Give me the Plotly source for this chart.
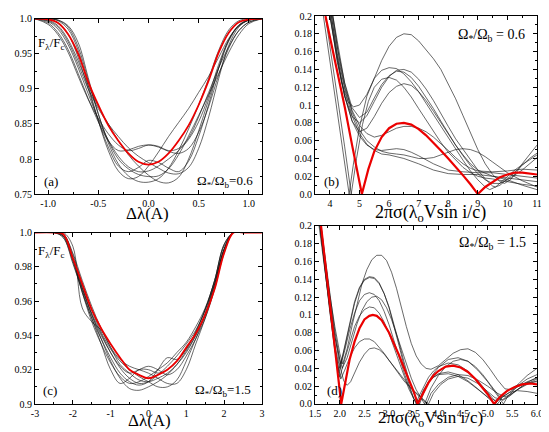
import plotly.graph_objs as go

# ---------------- panel (a): line profiles, Omega*/Omega_b = 0.6 ----------------
xa = [-1.13, -1.0, -0.9, -0.8, -0.7, -0.6, -0.5, -0.4, -0.3, -0.2, -0.1, 0.0,
      0.1, 0.2, 0.3, 0.4, 0.5, 0.6, 0.7, 0.8, 0.9, 1.0, 1.13]
a_red = [1.0, 0.999, 0.994, 0.978, 0.950, 0.910, 0.877, 0.848, 0.826, 0.808, 0.796, 0.792,
         0.796, 0.808, 0.826, 0.848, 0.877, 0.912, 0.952, 0.980, 0.995, 0.999, 1.0]
a_b1 = [1.0, 0.992, 0.977, 0.952, 0.918, 0.885, 0.858, 0.836, 0.820, 0.812, 0.815, 0.820,
        0.818, 0.812, 0.815, 0.830, 0.860, 0.895, 0.930, 0.960, 0.983, 0.995, 1.0]
a_b2 = [1.0, 1.0, 0.998, 0.990, 0.966, 0.916, 0.865, 0.823, 0.793, 0.776, 0.768, 0.767,
        0.772, 0.787, 0.812, 0.843, 0.877, 0.915, 0.955, 0.984, 0.997, 1.0, 1.0]
a_b3 = [1.0, 0.998, 0.990, 0.970, 0.940, 0.905, 0.875, 0.850, 0.826, 0.806, 0.790, 0.777,
        0.768, 0.766, 0.774, 0.800, 0.840, 0.885, 0.930, 0.968, 0.990, 0.998, 1.0]
a_b4 = [1.0, 1.0, 0.997, 0.985, 0.955, 0.905, 0.855, 0.812, 0.783, 0.772, 0.775, 0.790,
        0.810, 0.832, 0.852, 0.872, 0.895, 0.918, 0.945, 0.972, 0.990, 0.998, 1.0]
a_b5 = [1.0, 0.999, 0.994, 0.978, 0.945, 0.900, 0.855, 0.817, 0.790, 0.782, 0.788, 0.798,
        0.795, 0.787, 0.782, 0.797, 0.832, 0.878, 0.930, 0.970, 0.991, 0.999, 1.0]
a_b6 = [1.0, 0.994, 0.980, 0.956, 0.922, 0.886, 0.853, 0.826, 0.812, 0.813, 0.818, 0.820,
        0.817, 0.811, 0.808, 0.815, 0.838, 0.875, 0.920, 0.958, 0.983, 0.995, 1.0]
a_b7 = [1.0, 1.0, 0.998, 0.988, 0.960, 0.912, 0.864, 0.826, 0.800, 0.786, 0.778, 0.775,
        0.776, 0.786, 0.806, 0.833, 0.862, 0.892, 0.922, 0.952, 0.977, 0.993, 1.0]
a_b8 = [1.0, 0.996, 0.985, 0.963, 0.930, 0.893, 0.857, 0.827, 0.804, 0.789, 0.782, 0.783,
        0.790, 0.800, 0.812, 0.828, 0.853, 0.890, 0.935, 0.970, 0.990, 0.998, 1.0]
a_b9 = [1.0, 0.997, 0.988, 0.967, 0.935, 0.900, 0.872, 0.850, 0.832, 0.816, 0.804, 0.795,
        0.787, 0.780, 0.779, 0.788, 0.815, 0.860, 0.915, 0.962, 0.988, 0.998, 1.0]

# ---------------- panel (c): line profiles, Omega*/Omega_b = 1.5 ----------------
xc = [-3.0, -2.5, -2.25, -2.0, -1.75, -1.5, -1.25, -1.0, -0.75, -0.5, -0.25, 0.0,
      0.25, 0.5, 0.75, 1.0, 1.25, 1.5, 1.75, 2.0, 2.25, 2.5, 3.0]
c_red = [1.0, 1.0, 0.999, 0.985, 0.970, 0.955, 0.944, 0.935, 0.927, 0.920, 0.917, 0.915,
         0.917, 0.920, 0.925, 0.933, 0.941, 0.952, 0.967, 0.988, 1.0, 1.0, 1.0]
c_b1 = [1.0, 1.0, 1.0, 0.992, 0.956, 0.948, 0.943, 0.933, 0.923, 0.918, 0.914, 0.913,
        0.915, 0.918, 0.923, 0.930, 0.940, 0.952, 0.968, 0.990, 1.0, 1.0, 1.0]
c_b2 = [1.0, 1.0, 0.999, 0.985, 0.965, 0.950, 0.935, 0.920, 0.912, 0.915, 0.920, 0.920,
        0.918, 0.920, 0.925, 0.932, 0.942, 0.955, 0.972, 0.992, 1.0, 1.0, 1.0]
c_b3 = [1.0, 1.0, 0.998, 0.985, 0.968, 0.952, 0.938, 0.925, 0.915, 0.909, 0.908, 0.910,
        0.913, 0.917, 0.923, 0.931, 0.940, 0.953, 0.970, 0.990, 1.0, 1.0, 1.0]
c_b4 = [1.0, 1.0, 0.997, 0.982, 0.966, 0.950, 0.938, 0.927, 0.918, 0.913, 0.911, 0.913,
        0.920, 0.927, 0.926, 0.932, 0.942, 0.955, 0.972, 0.993, 1.0, 1.0, 1.0]
c_b5 = [1.0, 1.0, 0.999, 0.987, 0.970, 0.955, 0.942, 0.932, 0.925, 0.920, 0.916, 0.913,
        0.910, 0.910, 0.914, 0.925, 0.938, 0.952, 0.970, 0.990, 1.0, 1.0, 1.0]
c_b6 = [1.0, 1.0, 0.998, 0.984, 0.967, 0.952, 0.940, 0.930, 0.922, 0.918, 0.920, 0.922,
        0.920, 0.917, 0.920, 0.928, 0.938, 0.950, 0.967, 0.988, 1.0, 1.0, 1.0]
c_b7 = [1.0, 1.0, 0.999, 0.988, 0.972, 0.957, 0.944, 0.933, 0.926, 0.922, 0.920, 0.918,
        0.915, 0.912, 0.912, 0.920, 0.935, 0.950, 0.968, 0.990, 1.0, 1.0, 1.0]
c_b8 = [1.0, 1.0, 0.997, 0.983, 0.965, 0.948, 0.935, 0.924, 0.916, 0.912, 0.913, 0.916,
        0.920, 0.924, 0.930, 0.936, 0.945, 0.956, 0.972, 0.993, 1.0, 1.0, 1.0]
c_b9 = [1.0, 1.0, 0.998, 0.985, 0.968, 0.953, 0.941, 0.930, 0.921, 0.915, 0.912, 0.913,
        0.917, 0.922, 0.928, 0.935, 0.943, 0.955, 0.970, 0.990, 1.0, 1.0, 1.0]

# ---------------- panel (b): Fourier amplitudes, Omega*/Omega_b = 0.6 ----------------
b_red_x = [3.85, 4.0, 4.25, 4.5, 4.75, 5.08, 5.3, 5.5, 5.75, 6.0, 6.25, 6.5, 6.75, 7.0, 7.25,
           7.5, 7.75, 8.0, 8.25, 8.5, 8.75, 9.0, 9.25, 9.5, 9.75, 10.0, 10.25, 10.5, 10.75, 11.0]
b_red_y = [0.2, 0.177, 0.137, 0.098, 0.055, 0.0, 0.028, 0.048, 0.064, 0.074, 0.079, 0.080,
           0.078, 0.073, 0.066, 0.058, 0.049, 0.040, 0.031, 0.021, 0.011, 0.0, 0.008, 0.014,
           0.019, 0.022, 0.024, 0.024, 0.023, 0.022]
b1_x = [3.78, 4.0, 4.25, 4.5, 4.65, 4.8, 5.0, 5.25, 5.5, 5.75, 6.0, 6.25, 6.5, 6.75, 7.0, 7.25,
        7.5, 7.75, 8.0, 8.25, 8.5, 8.75, 9.0, 9.25, 9.4, 9.6, 9.8, 10.0, 10.25, 10.5, 10.75, 11.0]
b1_y = [0.2, 0.148, 0.092, 0.035, 0.0, 0.035, 0.075, 0.11, 0.13, 0.139, 0.142, 0.141, 0.135,
        0.126, 0.115, 0.102, 0.089, 0.076, 0.064, 0.050, 0.038, 0.026, 0.016, 0.008, 0.005,
        0.008, 0.014, 0.020, 0.027, 0.033, 0.039, 0.044]
b2_x = [3.85, 4.0, 4.25, 4.5, 4.72, 4.9, 5.1, 5.3, 5.5, 5.75, 6.0, 6.25, 6.5, 6.75, 7.0, 7.25,
        7.5, 7.75, 8.0, 8.25, 8.5, 8.75, 9.0, 9.25, 9.5, 10.0, 10.5, 11.0]
b2_y = [0.2, 0.167, 0.110, 0.053, 0.0, 0.040, 0.078, 0.104, 0.120, 0.129, 0.131, 0.128, 0.120,
        0.109, 0.096, 0.083, 0.070, 0.058, 0.047, 0.038, 0.030, 0.024, 0.020, 0.018, 0.017,
        0.014, 0.011, 0.009]
b3_x = [4.0, 4.2, 4.4, 4.6, 4.8, 5.0, 5.25, 5.5, 5.75, 6.0, 6.25, 6.5, 6.75, 7.0, 7.25, 7.5,
        7.75, 8.0, 8.25, 8.5, 8.75, 9.0, 9.25, 9.5, 9.75, 9.9, 10.1, 10.3, 10.5, 10.75, 11.0]
b3_y = [0.2, 0.16, 0.125, 0.104, 0.098, 0.100, 0.112, 0.130, 0.150, 0.166, 0.176, 0.180, 0.179,
        0.172, 0.162, 0.152, 0.140, 0.124, 0.107, 0.088, 0.068, 0.050, 0.034, 0.022, 0.014,
        0.012, 0.016, 0.024, 0.034, 0.045, 0.055]
b4_x = [4.02, 4.25, 4.5, 4.75, 5.0, 5.25, 5.5, 5.75, 6.0, 6.25, 6.5, 6.75, 7.0, 7.25, 7.5, 7.75,
        8.0, 8.25, 8.5, 8.75, 9.0, 9.25, 9.5, 9.6, 9.75, 10.0, 10.25, 10.5, 10.75, 11.0]
b4_y = [0.2, 0.148, 0.110, 0.087, 0.080, 0.088, 0.104, 0.120, 0.132, 0.139, 0.140, 0.137, 0.129,
        0.118, 0.105, 0.090, 0.076, 0.062, 0.050, 0.038, 0.027, 0.017, 0.009, 0.008, 0.010,
        0.017, 0.025, 0.033, 0.040, 0.046]
b5_x = [4.08, 4.25, 4.5, 4.75, 5.0, 5.25, 5.5, 5.75, 6.0, 6.25, 6.5, 6.75, 7.0, 7.25, 7.5, 7.75,
        8.0, 8.25, 8.5, 8.75, 9.0, 9.25, 9.5, 9.75, 10.0, 10.5, 11.0]
b5_y = [0.2, 0.165, 0.125, 0.097, 0.086, 0.092, 0.108, 0.123, 0.133, 0.138, 0.137, 0.131, 0.121,
        0.109, 0.096, 0.082, 0.068, 0.055, 0.043, 0.032, 0.023, 0.016, 0.012, 0.012, 0.016,
        0.027, 0.041]
b6_x = [4.05, 4.25, 4.5, 4.75, 5.0, 5.25, 5.5, 5.75, 6.0, 6.25, 6.5, 6.75, 7.0, 7.25, 7.5, 7.75,
        8.0, 8.25, 8.5, 8.75, 9.0, 9.5, 10.0, 10.5, 11.0]
b6_y = [0.2, 0.155, 0.110, 0.082, 0.070, 0.074, 0.087, 0.102, 0.114, 0.121, 0.124, 0.122, 0.115,
        0.105, 0.093, 0.080, 0.067, 0.055, 0.044, 0.034, 0.027, 0.020, 0.018, 0.016, 0.014]
b7_x = [4.1, 4.3, 4.5, 4.75, 5.0, 5.25, 5.5, 5.75, 6.0, 6.25, 6.5, 6.75, 7.0, 7.25, 7.5, 7.75,
        8.0, 8.25, 8.5, 8.75, 9.0, 9.5, 10.0, 10.5, 11.0]
b7_y = [0.2, 0.155, 0.120, 0.094, 0.077, 0.068, 0.064, 0.066, 0.070, 0.074, 0.076, 0.076, 0.074,
        0.070, 0.064, 0.057, 0.049, 0.041, 0.034, 0.029, 0.026, 0.025, 0.026, 0.028, 0.027]
b8_x = [4.0, 4.25, 4.5, 4.75, 5.0, 5.25, 5.5, 5.75, 6.0, 6.25, 6.5, 6.75, 7.0, 7.5, 8.0, 8.5,
        9.0, 9.5, 10.0, 10.5, 11.0]
b8_y = [0.2, 0.150, 0.110, 0.082, 0.065, 0.055, 0.050, 0.049, 0.050, 0.051, 0.050, 0.047, 0.043,
        0.034, 0.027, 0.025, 0.024, 0.024, 0.022, 0.020, 0.018]
b9_x = [4.1, 4.3, 4.5, 4.75, 5.0, 5.25, 5.5, 5.75, 6.0, 6.25, 6.5, 6.75, 7.0, 7.25, 7.5, 7.75,
        8.0, 8.25, 8.5, 8.75, 9.0, 9.25, 9.5, 9.75, 10.0, 10.5, 11.0]
b9_y = [0.2, 0.160, 0.124, 0.092, 0.072, 0.060, 0.053, 0.048, 0.046, 0.045, 0.044, 0.042, 0.040,
        0.040, 0.041, 0.044, 0.047, 0.050, 0.051, 0.050, 0.047, 0.042, 0.036, 0.030, 0.024,
        0.015, 0.008]
b10_x = [4.05, 4.25, 4.5, 4.75, 5.0, 5.25, 5.5, 5.75, 6.0, 6.25, 6.5, 7.0, 7.5, 8.0, 8.5, 9.0,
         9.5, 10.0, 10.5, 11.0]
b10_y = [0.2, 0.158, 0.118, 0.088, 0.068, 0.056, 0.049, 0.045, 0.044, 0.042, 0.040, 0.034,
         0.027, 0.023, 0.022, 0.022, 0.020, 0.016, 0.010, 0.005]

# ---------------- panel (d): Fourier amplitudes, Omega*/Omega_b = 1.5 ----------------
d_red_x = [1.62, 1.8, 2.03, 2.2, 2.3, 2.4, 2.5, 2.6, 2.67, 2.75, 2.85, 3.0, 3.1, 3.2, 3.3, 3.4,
           3.5, 3.58, 3.7, 3.8, 3.9, 4.0, 4.15, 4.3, 4.45, 4.6, 4.75, 4.9, 5.0, 5.13, 5.25,
           5.4, 5.55, 5.7, 5.87, 6.0]
d_red_y = [0.2, 0.112, 0.0, 0.050, 0.070, 0.085, 0.095, 0.099, 0.100, 0.099, 0.094, 0.080,
           0.068, 0.055, 0.041, 0.028, 0.014, 0.0, 0.014, 0.024, 0.032, 0.037, 0.042, 0.043,
           0.041, 0.036, 0.028, 0.018, 0.011, 0.0, 0.008, 0.015, 0.019, 0.022, 0.023, 0.022]
d1_x = [1.6, 1.7, 1.8, 1.9, 2.0, 2.06, 2.15, 2.25, 2.35, 2.45, 2.55, 2.65, 2.75, 2.85, 2.95,
        3.05, 3.15, 3.25, 3.35, 3.45, 3.55, 3.65, 3.75, 3.85, 4.0, 4.15, 4.3, 4.45, 4.6, 4.75,
        4.9, 5.05, 5.2, 5.35, 5.5, 5.65, 5.8, 6.0]
d1_y = [0.2, 0.160, 0.122, 0.087, 0.057, 0.045, 0.062, 0.088, 0.113, 0.135, 0.151, 0.162,
        0.167, 0.167, 0.161, 0.148, 0.130, 0.108, 0.087, 0.068, 0.054, 0.045, 0.040, 0.039,
        0.043, 0.050, 0.057, 0.061, 0.062, 0.058, 0.050, 0.039, 0.027, 0.017, 0.016, 0.024,
        0.032, 0.040]
d2_x = [1.58, 1.7, 1.8, 1.9, 2.0, 2.1, 2.2, 2.3, 2.4, 2.5, 2.6, 2.7, 2.8, 2.9, 3.0, 3.1, 3.2,
        3.3, 3.4, 3.5, 3.55, 3.6, 3.7, 3.8, 3.9, 4.0, 4.2, 4.4, 4.6, 4.8, 5.0, 5.1, 5.2, 5.3,
        5.45, 5.6, 5.8, 6.0]
d2_y = [0.2, 0.148, 0.105, 0.065, 0.040, 0.065, 0.092, 0.115, 0.131, 0.140, 0.143, 0.142,
        0.136, 0.124, 0.108, 0.088, 0.066, 0.044, 0.023, 0.006, 0.0, 0.008, 0.020, 0.030,
        0.037, 0.042, 0.046, 0.044, 0.037, 0.026, 0.013, 0.006, 0.0, 0.008, 0.014, 0.019,
        0.025, 0.029]
d3_x = [1.6, 1.7, 1.8, 1.9, 2.02, 2.1, 2.2, 2.3, 2.4, 2.5, 2.6, 2.7, 2.8, 2.9, 3.0, 3.1, 3.2,
        3.3, 3.4, 3.5, 3.62, 3.7, 3.8, 3.9, 4.0, 4.2, 4.4, 4.6, 4.8, 5.0, 5.2, 5.32, 5.4, 5.6,
        5.8, 6.0]
d3_y = [0.2, 0.155, 0.113, 0.075, 0.045, 0.063, 0.090, 0.113, 0.130, 0.139, 0.142, 0.141,
        0.135, 0.124, 0.109, 0.090, 0.069, 0.048, 0.028, 0.012, 0.0, 0.012, 0.025, 0.034,
        0.041, 0.050, 0.052, 0.048, 0.038, 0.025, 0.010, 0.0, 0.008, 0.020, 0.028, 0.033]
d4_x = [1.6, 1.7, 1.8, 1.9, 1.98, 2.1, 2.2, 2.3, 2.4, 2.5, 2.6, 2.7, 2.8, 2.9, 3.0, 3.1, 3.2,
        3.3, 3.4, 3.5, 3.57, 3.7, 3.8, 3.9, 4.0, 4.2, 4.4, 4.6, 4.8, 5.0, 5.15, 5.25, 5.4, 5.6,
        5.8, 6.0]
d4_y = [0.2, 0.152, 0.108, 0.066, 0.035, 0.060, 0.083, 0.102, 0.116, 0.123, 0.125, 0.123,
        0.116, 0.104, 0.089, 0.071, 0.053, 0.036, 0.020, 0.006, 0.0, 0.015, 0.024, 0.030,
        0.034, 0.036, 0.033, 0.026, 0.017, 0.007, 0.0, 0.006, 0.015, 0.021, 0.024, 0.025]
d5_x = [1.62, 1.7, 1.8, 1.9, 2.0, 2.05, 2.15, 2.25, 2.35, 2.45, 2.55, 2.65, 2.75, 2.85, 2.95,
        3.05, 3.15, 3.25, 3.35, 3.45, 3.55, 3.65, 3.72, 3.85, 4.0, 4.15, 4.3, 4.45, 4.6, 4.75,
        4.9, 5.05, 5.2, 5.3, 5.45, 5.6, 5.8, 6.0]
d5_y = [0.2, 0.165, 0.122, 0.082, 0.050, 0.040, 0.052, 0.072, 0.090, 0.105, 0.115, 0.120,
        0.121, 0.117, 0.108, 0.095, 0.079, 0.062, 0.045, 0.029, 0.016, 0.006, 0.0, 0.018,
        0.032, 0.042, 0.048, 0.050, 0.048, 0.042, 0.033, 0.022, 0.011, 0.004, 0.009, 0.016,
        0.024, 0.030]
d6_x = [1.6, 1.7, 1.8, 1.9, 2.0, 2.1, 2.2, 2.3, 2.4, 2.5, 2.6, 2.7, 2.8, 2.9, 3.0, 3.1, 3.2,
        3.3, 3.4, 3.5, 3.58, 3.7, 3.8, 3.9, 4.0, 4.2, 4.4, 4.6, 4.8, 5.0, 5.15, 5.3, 5.45, 5.6,
        5.8, 6.0]
d6_y = [0.2, 0.150, 0.104, 0.062, 0.030, 0.050, 0.070, 0.087, 0.099, 0.106, 0.109, 0.108,
        0.102, 0.092, 0.079, 0.064, 0.048, 0.032, 0.017, 0.006, 0.0, 0.016, 0.025, 0.030,
        0.033, 0.034, 0.031, 0.025, 0.016, 0.008, 0.004, 0.008, 0.013, 0.015, 0.014, 0.012]
d7_x = [1.6, 1.7, 1.8, 1.9, 2.02, 2.1, 2.2, 2.3, 2.4, 2.5, 2.6, 2.7, 2.8, 2.9, 3.0, 3.1, 3.2,
        3.3, 3.4, 3.5, 3.6, 3.7, 3.76, 3.85, 4.0, 4.2, 4.4, 4.6, 4.8, 5.0, 5.2, 5.35, 5.5, 5.7,
        6.0]
d7_y = [0.2, 0.150, 0.103, 0.060, 0.028, 0.038, 0.052, 0.063, 0.070, 0.073, 0.073, 0.070,
        0.064, 0.057, 0.049, 0.041, 0.033, 0.026, 0.020, 0.014, 0.009, 0.004, 0.0, 0.012,
        0.022, 0.030, 0.033, 0.032, 0.027, 0.020, 0.012, 0.008, 0.012, 0.020, 0.028]
d8_x = [1.62, 1.7, 1.8, 1.9, 2.0, 2.08, 2.15, 2.22, 2.3, 2.4, 2.5, 2.6, 2.7, 2.8, 2.9, 3.0,
        3.1, 3.2, 3.3, 3.4, 3.5, 3.6, 3.7, 3.8, 3.9, 4.05, 4.2, 4.4, 4.6, 4.8, 5.0, 5.15, 5.3,
        5.45, 5.6, 5.8, 6.0]
d8_y = [0.2, 0.162, 0.118, 0.077, 0.043, 0.026, 0.021, 0.025, 0.035, 0.047, 0.056, 0.062,
        0.063, 0.061, 0.056, 0.049, 0.041, 0.034, 0.027, 0.021, 0.015, 0.010, 0.005, 0.0,
        0.012, 0.022, 0.028, 0.031, 0.029, 0.023, 0.014, 0.007, 0.005, 0.010, 0.016, 0.022,
        0.026]

black = 'rgba(20,20,20,0.8)'
red = 'rgb(235,0,0)'
serif = 'Liberation Serif, Times New Roman, serif'

data_fig = []


def add(x, y, ax, color, width, shape):
    data_fig.append(go.Scatter(
        x=x, y=y, mode='lines',
        line=dict(color=color, width=width, shape=shape),
        xaxis='x' + ax, yaxis='y' + ax,
        hoverinfo='skip'))


for ys in [a_b1, a_b2, a_b3, a_b4, a_b5, a_b6, a_b7, a_b8, a_b9]:
    add(xa, ys, '', black, 0.8, 'spline')
add(xa, a_red, '', red, 1.8, 'spline')

for bx, by in [(b1_x, b1_y), (b2_x, b2_y), (b3_x, b3_y), (b4_x, b4_y), (b5_x, b5_y),
               (b6_x, b6_y), (b7_x, b7_y), (b8_x, b8_y), (b9_x, b9_y), (b10_x, b10_y)]:
    add(bx, by, '2', black, 0.8, 'linear')
add(b_red_x, b_red_y, '2', red, 2.2, 'linear')

for ys in [c_b1, c_b2, c_b3, c_b4, c_b5, c_b6, c_b7, c_b8, c_b9]:
    add(xc, ys, '3', black, 0.8, 'spline')
add(xc, c_red, '3', red, 1.8, 'spline')

for dx, dy in [(d1_x, d1_y), (d2_x, d2_y), (d3_x, d3_y), (d4_x, d4_y), (d5_x, d5_y),
               (d6_x, d6_y), (d7_x, d7_y), (d8_x, d8_y)]:
    add(dx, dy, '4', black, 0.8, 'linear')
add(d_red_x, d_red_y, '4', red, 2.2, 'linear')


def axis(rng, domain, anchor, tickvals, ticktext, minor):
    return dict(
        range=rng, domain=domain, anchor=anchor,
        tickmode='array', tickvals=tickvals, ticktext=ticktext,
        ticks='inside', ticklen=4, tickwidth=1, tickcolor='black',
        minor=dict(ticks='inside', ticklen=2, tickcolor='black', dtick=minor, showgrid=False),
        mirror='allticks', showline=True, linecolor='black', linewidth=1,
        showgrid=False, zeroline=False,
        tickfont=dict(family=serif, size=10, color='black'))


# the page body has an 8px margin, so the figure itself sits 8px right and down
layout = go.Layout(
    width=541, height=424,
    margin=dict(l=27, r=12, t=2, b=28),
    paper_bgcolor='white', plot_bgcolor='white',
    showlegend=False,
    xaxis=axis([-1.13, 1.13], [0, 0.452], 'y',
               [-1.0, -0.5, 0.0, 0.5, 1.0], ['-1.0', '-0.5', '0.0', '0.5', '1.0'], 0.25),
    yaxis=axis([0.75, 1.0], [0.541, 0.993], 'x',
               [0.75, 0.8, 0.85, 0.9, 0.95, 1.0], ['0.75', '0.8', '0.85', '0.9', '0.95', '1.0'], 0.025),
    xaxis2=axis([3.5, 11], [0.558, 1.0], 'y2',
                [4, 5, 6, 7, 8, 9, 10, 11], ['4', '5', '6', '7', '8', '9', '10', '11'], 0.5),
    yaxis2=axis([0, 0.2], [0.541, 1.0], 'x2',
                [0, 0.02, 0.04, 0.06, 0.08, 0.1, 0.12, 0.14, 0.16, 0.18, 0.2],
                ['0.0', '0.02', '0.04', '0.06', '0.08', '0.1', '0.12', '0.14', '0.16', '0.18', '0.2'], 0.01),
    xaxis3=axis([-3, 3], [0, 0.452], 'y3',
                [-3, -2, -1, 0, 1, 2, 3], ['-3', '-2', '-1', '0', '1', '2', '3'], 0.5),
    yaxis3=axis([0.9, 1.0], [0, 0.442], 'x3',
                [0.9, 0.92, 0.94, 0.96, 0.98, 1.0], ['0.9', '0.92', '0.94', '0.96', '0.98', '1.0'], 0.01),
    xaxis4=axis([1.5, 6.0], [0.558, 1.0], 'y4',
                [1.5, 2.0, 2.5, 3.0, 3.5, 4.0, 4.5, 5.0, 5.5, 6.0],
                ['1.5', '2.0', '2.5', '3.0', '3.5', '4.0', '4.5', '5.0', '5.5', '6.0'], 0.25),
    yaxis4=axis([0, 0.2], [0, 0.459], 'x4',
                [0, 0.02, 0.04, 0.06, 0.08, 0.1, 0.12, 0.14, 0.16, 0.18, 0.2],
                ['0.0', '0.02', '0.04', '0.06', '0.08', '0.1', '0.12', '0.14', '0.16', '0.18', '0.2'], 0.01),
)

omega6 = 'Ω<sub>*</sub>/Ω<sub>b</sub>'
flux = 'F<sub>λ</sub>/F<sub>c</sub>'
xlab = '2πσ(λ<sub>o</sub>Vsin i/c)'


def note(text, x, y, ref, size, xanchor='center', yanchor='middle'):
    return dict(text=text, x=x, y=y, xref='x' + ref if ref != 'paper' else 'paper',
                yref='y' + ref if ref != 'paper' else 'paper',
                showarrow=False, xanchor=xanchor, yanchor=yanchor,
                font=dict(family=serif, size=size, color='black'))


layout.annotations = [
    note(flux, -1.12, 0.964, '', 13, 'left'),
    note('(a)', -0.975, 0.768, '', 13),
    note(omega6 + '=0.6', 1.06, 0.768, '', 13, 'right'),
    note(omega6 + ' = 0.6', 10.67, 0.178, '2', 14, 'right'),
    note('(b)', 4.04, 0.0144, '2', 13),
    note(flux, -2.97, 0.989, '3', 13, 'left'),
    note('(c)', -2.6, 0.908, '3', 13),
    note(omega6 + '=1.5', 2.76, 0.908, '3', 13, 'right'),
    note(omega6 + ' = 1.5', 5.81, 0.18, '4', 14, 'right'),
    note('(d)', 1.885, 0.0155, '4', 13),
    note('Δλ(A)', 0.225, 0.492, 'paper', 17),
    note('Δλ(A)', 0.229, -0.071, 'paper', 17, yanchor='bottom'),
    note(xlab, 0.787, 0.492, 'paper', 18),
    note(xlab, 0.787, -0.071, 'paper', 17, yanchor='bottom'),
]

fig = go.Figure(data=data_fig, layout=layout)
fig.write_html('out.html')
